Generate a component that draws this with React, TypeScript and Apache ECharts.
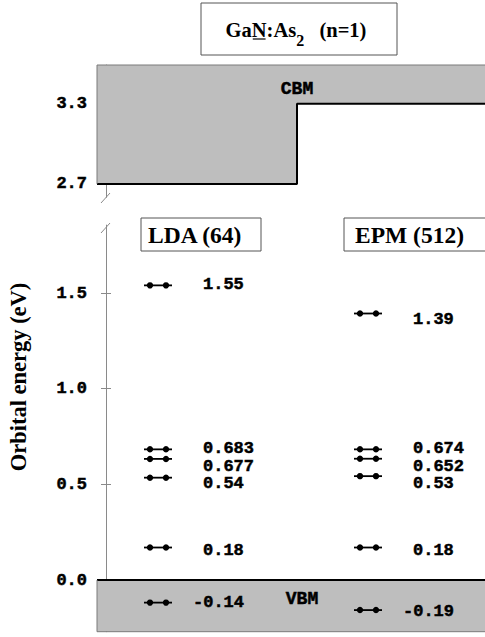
import React, { useEffect, useRef } from 'react';
import * as echarts from 'echarts';

// ---- data ----
const columnNames = ['LDA (64)', 'EPM (512)'];
const columnX = [52, 262]; // position of each column on the hidden x axis
const ldaLevels = [1.54, 0.683, 0.633, 0.535, 0.17, -0.118];
const ldaLabels = ['1.55', '0.683', '0.677', '0.54', '0.18', '-0.14'];
const ldaLabelY = [1.545, 0.686, 0.594, 0.502, 0.153, -0.12];
const epmLevels = [1.393, 0.683, 0.634, 0.543, 0.17, -0.157];
const epmLabels = ['1.39', '0.674', '0.652', '0.53', '0.18', '-0.19'];
const epmLabelY = [1.364, 0.686, 0.594, 0.502, 0.153, -0.167];
const cbmStep = [[-9, 2.7], [191, 2.7], [191, 3.3], [379, 3.3]];
const cbmEdge = [[-9, 2.7], [-9, 3.59], [379, 3.59]];
const vbmLine = [[-9, 0], [379, 0]];
const vbmEdge = [[-9, 0], [-9, -0.27], [379, -0.27]];
const bandLabels = [{ text: 'CBM', x: 191, y: 3.41 }, { text: 'VBM', x: 196, y: -0.099 }];
const upperTicks = [2.7, 3.3];
const lowerTicks = [0, 0.5, 1.0, 1.5];

const MONO = 'Liberation Mono';
const SERIF = 'Liberation Serif';
const GRAY = '#bebebe';
const AXIS = '#8a8a8a';
const monoStyle = { fontFamily: MONO, fontWeight: 'bold', fill: '#000', stroke: '#000', lineWidth: 0.5 };

function measure(t: string, font: string) {
  const c = document.createElement('canvas').getContext('2d');
  if (!c) return t.length * 10;
  c.font = font;
  return c.measureText(t).width;
}

export default function App() {
  const ref = useRef<HTMLDivElement>(null);
  useEffect(() => {
    if (!ref.current) return;
    const chart = echarts.init(ref.current, null, { renderer: 'svg' });

    const levelData: number[][] = [];
    const labelData: { v: number[]; t: string }[] = [];
    ldaLevels.forEach((v, i) => {
      levelData.push([columnX[0], v]);
      labelData.push({ v: [columnX[0], ldaLabelY[i]], t: ldaLabels[i] });
    });
    epmLevels.forEach((v, i) => {
      levelData.push([columnX[1], v]);
      labelData.push({ v: [columnX[1], epmLabelY[i]], t: epmLabels[i] });
    });

    // title pieces
    const fMain = `bold 20.5px "${SERIF}"`;
    const fSub = `bold 16px "${SERIF}"`;
    const wGa = measure('Ga', fMain);
    const wN = measure('N', fMain);
    const wAs = measure(':As', fMain);
    const w2 = measure('2', fSub);
    const wGap = measure('  ', fMain) + 5;
    const wPar = measure('(n=1)', fMain);
    const total = wGa + wN + wAs + w2 + wGap + wPar;
    const x0 = 296 - total / 2;
    const ty = 30;
    const tstyle = (text: string, x: number, y: number, size: number) => ({
      type: 'text', x, y,
      style: { text, fontFamily: SERIF, fontWeight: 'bold', fontSize: size, fill: '#000', align: 'left', verticalAlign: 'middle' },
    });

    const yAxisBase = (gridIndex: number, min: number, max: number, ticks: number[], inside: boolean) => ({
      type: 'value', gridIndex, min, max, position: 'left', offset: -9,
      axisLine: { show: !inside, onZero: false, lineStyle: { color: AXIS, width: 1 } },
      axisTick: { show: true, inside, length: 5, customValues: ticks, lineStyle: { color: AXIS } },
      axisLabel: inside ? { show: false } : {
        show: true, customValues: ticks, margin: 19,
        formatter: (v: number) => v.toFixed(1),
        fontFamily: MONO, fontWeight: 'bold', fontSize: 17, color: '#000',
        textBorderColor: '#000', textBorderWidth: 0.5,
      },
      splitLine: { show: false },
    });

    const option: any = {
      animation: false,
      grid: [
        { left: 97, top: 65, width: 388, height: 132.3 },
        { left: 97, top: 225.1, width: 388, height: 406.6 },
      ],
      xAxis: [
        { type: 'value', gridIndex: 0, min: -9, max: 379, show: false },
        { type: 'value', gridIndex: 1, min: -9, max: 379, show: false },
      ],
      yAxis: [
        yAxisBase(0, 2.6, 3.59, upperTicks, false),
        yAxisBase(0, 2.6, 3.59, upperTicks, true),
        yAxisBase(1, -0.27, 1.855, lowerTicks, false),
        yAxisBase(1, -0.27, 1.855, lowerTicks, true),
      ],
      series: [
        {
          type: 'line', xAxisIndex: 0, yAxisIndex: 0, data: cbmStep, symbol: 'none', clip: false,
          lineStyle: { color: '#000', width: 2 },
          areaStyle: { color: GRAY, opacity: 1, origin: 'end' }, z: 3,
        },
        {
          type: 'line', xAxisIndex: 0, yAxisIndex: 0, data: cbmEdge, symbol: 'none', clip: false,
          lineStyle: { color: '#7a7a7a', width: 1 }, z: 4,
        },
        {
          type: 'line', xAxisIndex: 1, yAxisIndex: 2, data: vbmLine, symbol: 'none', clip: false,
          lineStyle: { color: '#000', width: 2 },
          areaStyle: { color: GRAY, opacity: 1, origin: 'start' }, z: 3,
        },
        {
          type: 'line', xAxisIndex: 1, yAxisIndex: 2, data: vbmEdge, symbol: 'none', clip: false,
          lineStyle: { color: '#7a7a7a', width: 1 }, z: 4,
        },
        {
          type: 'custom', coordinateSystem: 'cartesian2d', xAxisIndex: 1, yAxisIndex: 2,
          data: levelData, clip: false, z: 5,
          renderItem: (_p: any, api: any) => {
            const p = api.coord([api.value(0), api.value(1)]);
            return {
              type: 'group',
              children: [
                { type: 'line', shape: { x1: p[0] - 14, y1: p[1], x2: p[0] + 14, y2: p[1] }, style: { stroke: '#000', lineWidth: 1.8 } },
                { type: 'circle', shape: { cx: p[0] - 8, cy: p[1], r: 3.2 }, style: { fill: '#000' } },
                { type: 'circle', shape: { cx: p[0] + 8, cy: p[1], r: 3.2 }, style: { fill: '#000' } },
              ],
            };
          },
        },
        {
          type: 'custom', coordinateSystem: 'cartesian2d', xAxisIndex: 1, yAxisIndex: 2,
          data: labelData.map((d) => d.v), clip: false, z: 5,
          renderItem: (params: any, api: any) => {
            const p = api.coord([api.value(0), api.value(1)]);
            const t = labelData[params.dataIndex].t;
            const dx = t.startsWith('-') ? 35 : 45;
            return {
              type: 'text', x: p[0] + dx, y: p[1],
              style: { ...monoStyle, text: t, fontSize: 17, align: 'left', verticalAlign: 'middle' },
            };
          },
        },
        {
          type: 'custom', coordinateSystem: 'cartesian2d', xAxisIndex: 0, yAxisIndex: 0,
          data: [[bandLabels[0].x, bandLabels[0].y]], clip: false, z: 6,
          renderItem: (_p: any, api: any) => {
            const p = api.coord([api.value(0), api.value(1)]);
            return { type: 'text', x: p[0], y: p[1], style: { ...monoStyle, text: bandLabels[0].text, fontSize: 18, align: 'center', verticalAlign: 'middle' } };
          },
        },
        {
          type: 'custom', coordinateSystem: 'cartesian2d', xAxisIndex: 1, yAxisIndex: 2,
          data: [[bandLabels[1].x, bandLabels[1].y]], clip: false, z: 6,
          renderItem: (_p: any, api: any) => {
            const p = api.coord([api.value(0), api.value(1)]);
            return { type: 'text', x: p[0], y: p[1], style: { ...monoStyle, text: bandLabels[1].text, fontSize: 18, align: 'center', verticalAlign: 'middle' } };
          },
        },
      ],
      graphic: [
        { type: 'rect', shape: { x: 201, y: 3, width: 196, height: 52 }, style: { fill: '#fff', stroke: '#555', lineWidth: 1 } },
        tstyle('Ga', x0, ty, 20.5),
        tstyle('N', x0 + wGa, ty, 20.5),
        { type: 'line', shape: { x1: x0 + wGa + 1, y1: ty + 9, x2: x0 + wGa + wN - 1, y2: ty + 9 }, style: { stroke: '#000', lineWidth: 1.2 } },
        tstyle(':As', x0 + wGa + wN, ty, 20.5),
        tstyle('2', x0 + wGa + wN + wAs, ty + 10, 16),
        tstyle('(n=1)', x0 + wGa + wN + wAs + w2 + wGap, ty, 20.5),
        { type: 'rect', shape: { x: 141, y: 218, width: 120, height: 33 }, style: { fill: '#fff', stroke: '#555', lineWidth: 1 } },
        { type: 'text', x: 148, y: 235, style: { text: columnNames[0], fontFamily: SERIF, fontWeight: 'bold', fontSize: 23.5, fill: '#000', align: 'left', verticalAlign: 'middle' } },
        { type: 'rect', shape: { x: 344, y: 218, width: 150, height: 33 }, style: { fill: '#fff', stroke: '#555', lineWidth: 1 } },
        { type: 'text', x: 355, y: 235, style: { text: columnNames[1], fontFamily: SERIF, fontWeight: 'bold', fontSize: 23.5, fill: '#000', align: 'left', verticalAlign: 'middle' } },
        { type: 'text', x: 18, y: 377, rotation: Math.PI / 2, style: { text: 'Orbital energy (eV)', fontFamily: SERIF, fontWeight: 'bold', fontSize: 22.5, fill: '#000', align: 'center', verticalAlign: 'middle' } },
        { type: 'line', shape: { x1: 101, y1: 203, x2: 110, y2: 193 }, style: { stroke: AXIS, lineWidth: 1 } },
        { type: 'line', shape: { x1: 101, y1: 233, x2: 110, y2: 223 }, style: { stroke: AXIS, lineWidth: 1 } },
      ],
    };
    chart.setOption(option);
    return () => chart.dispose();
  }, []);
  return <div ref={ref} style={{ position: 'fixed', left: 0, top: 0, width: 485, height: 637, background: '#fff' }} />;
}
